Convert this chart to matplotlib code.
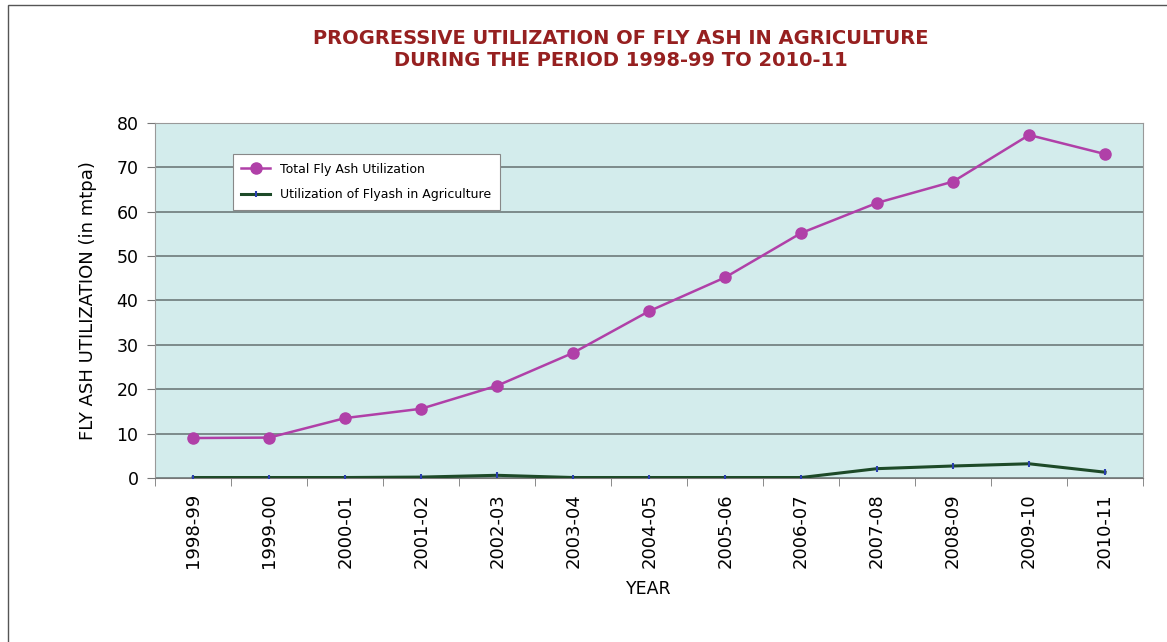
import matplotlib
matplotlib.use("Agg")
import matplotlib.pyplot as plt
from matplotlib.patches import Rectangle

# data
years = ["1998-99", "1999-00", "2000-01", "2001-02", "2002-03", "2003-04", "2004-05",
         "2005-06", "2006-07", "2007-08", "2008-09", "2009-10", "2010-11"]
total_util = [9.0, 9.1, 13.5, 15.6, 20.8, 28.2, 37.6, 45.2, 55.2, 62.0, 66.8, 77.3, 73.0]
agri_util = [0.1, 0.1, 0.1, 0.2, 0.6, 0.1, 0.1, 0.1, 0.1, 2.1, 2.7, 3.2, 1.3]

fig = plt.figure(figsize=(11.67, 6.42), dpi=100)
ax = fig.add_axes([0.133, 0.2555, 0.8465, 0.5529])

# outer frame of the chart
fig.patches.append(Rectangle((0.007, -0.01), 1.1, 1.0025, transform=fig.transFigure,
                             fill=False, edgecolor="#555555", linewidth=1.0))

ax.set_facecolor("#d3ecec")
x = list(range(len(years)))

ax.plot(x, total_util, color="#b040a8", lw=1.8, marker="o", ms=8,
        label="Total Fly Ash Utilization", zorder=3)
ax.plot(x, agri_util, color="#1d4a28", lw=2.2, marker="|", ms=5, mec="#2a3fb0", mew=1.5,
        label="Utilization of Flyash in Agriculture", zorder=3)

ax.set_xlim(-0.5, len(years) - 0.5)
ax.set_ylim(0, 80)
ax.set_yticks(range(0, 81, 10))
ax.set_xticks(x)
ax.set_xticklabels(years, rotation=90, fontsize=13)
ax.set_xticks([i - 0.5 for i in range(len(years) + 1)], minor=True)
ax.tick_params(axis="x", which="major", length=0, pad=11)
ax.tick_params(axis="x", which="minor", length=6, color="#777777")
ax.tick_params(axis="y", labelsize=12.5, length=6, color="#777777", pad=6)

ax.grid(axis="y", color="#6e7b7b", lw=1.2)
ax.set_axisbelow(True)
for s in ax.spines.values():
    s.set_color("#999999")
ax.spines["bottom"].set_color("#777777")

ax.set_ylabel("FLY ASH UTILIZATION (in mtpa)", fontsize=13, labelpad=14)
ax.set_xlabel("YEAR", fontsize=12.5, labelpad=8)

fig.text(0.532, 0.923, "PROGRESSIVE UTILIZATION OF FLY ASH IN AGRICULTURE\nDURING THE PERIOD 1998-99 TO 2010-11",
         ha="center", va="center", fontsize=14, fontweight="bold", color="#962020", linespacing=1.25)

leg = ax.legend(loc="upper left", bbox_to_anchor=(0.072, 0.93), fontsize=9, frameon=True,
                fancybox=False, edgecolor="#888888", framealpha=1, borderpad=0.7, labelspacing=1.0,
                handlelength=2.3)
leg.get_frame().set_linewidth(0.8)

fig.savefig("out.png", dpi=100, facecolor="white")
